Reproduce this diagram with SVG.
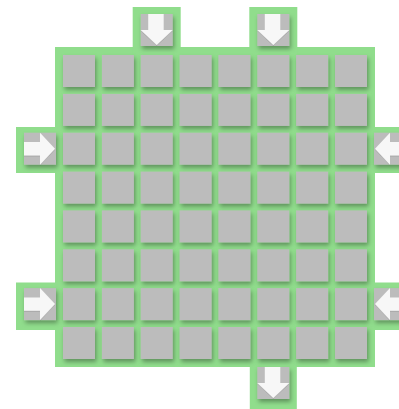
<svg xmlns="http://www.w3.org/2000/svg" width="399" height="409" viewBox="0 0 399 409">
<defs>
<filter id="sh" x="-30%" y="-30%" width="170%" height="170%"><feDropShadow dx="1.5" dy="3" stdDeviation="2" flood-color="#000" flood-opacity="0.33"/></filter>
<filter id="ash" x="-20%" y="-20%" width="150%" height="150%"><feDropShadow dx="0" dy="1" stdDeviation="0.6" flood-color="#000" flood-opacity="0.12"/></filter>
<rect id="c" width="32" height="32" class="cell"/>
<path id="aR" d="M0,9.3H16V0L31,16L16,32V22.7H0Z"/>
<path id="aL" d="M32,9.3H16V0L1,16L16,32V22.7H32Z"/>
<path id="aD" d="M7.5,0V16H0L16,31L32,16H23V0Z"/>
</defs>
<style>
.g{fill:#90dd8c}
.cell{fill:#bcbcbc}
.cells use{filter:url(#sh)}
.arr{fill:#f7f7f7;filter:url(#ash)}
</style>
<rect width="399" height="409" fill="#fff"/>
<g id="board">
<rect class="g" x="55" y="47" width="320" height="320"/>
</g>
<g id="tab-top-1"><rect class="g" x="132.7" y="7" width="48" height="48"/><use href="#c" x="140.7" y="14" filter="url(#sh)"/><use href="#aD" class="arr" x="140.7" y="14"/></g>
<g id="tab-top-2"><rect class="g" x="249.3" y="7" width="48" height="48"/><use href="#c" x="257.3" y="14" filter="url(#sh)"/><use href="#aD" class="arr" x="257.3" y="14"/></g>
<g id="tab-left-1"><rect class="g" x="16" y="127" width="48" height="46"/><use href="#c" x="24" y="132.7" filter="url(#sh)"/><use href="#aR" class="arr" x="24" y="132.7"/></g>
<g id="tab-left-2"><rect class="g" x="16" y="282.5" width="48" height="47.5"/><use href="#c" x="24" y="288.1" filter="url(#sh)"/><use href="#aR" class="arr" x="24" y="288.1"/></g>
<g id="tab-right-1"><rect class="g" x="366.5" y="127" width="48" height="46"/><use href="#c" x="374" y="132.7" filter="url(#sh)"/><use href="#aL" class="arr" x="374" y="132.7"/></g>
<g id="tab-right-2"><rect class="g" x="366.5" y="282.5" width="48" height="47.5"/><use href="#c" x="374" y="288.1" filter="url(#sh)"/><use href="#aL" class="arr" x="374" y="288.1"/></g>
<g id="tab-bottom"><rect class="g" x="249.8" y="360" width="47" height="49"/><use href="#c" x="257.3" y="367" filter="url(#sh)"/><use href="#aD" class="arr" x="257.3" y="367"/></g>
<g id="cells" class="cells">
<g id="r0"><use href="#c" x="63" y="55"/><use href="#c" x="101.9" y="55"/><use href="#c" x="140.7" y="55"/><use href="#c" x="179.6" y="55"/><use href="#c" x="218.4" y="55"/><use href="#c" x="257.3" y="55"/><use href="#c" x="296.1" y="55"/><use href="#c" x="335" y="55"/></g>
<g id="r1"><use href="#c" x="63" y="93.9"/><use href="#c" x="101.9" y="93.9"/><use href="#c" x="140.7" y="93.9"/><use href="#c" x="179.6" y="93.9"/><use href="#c" x="218.4" y="93.9"/><use href="#c" x="257.3" y="93.9"/><use href="#c" x="296.1" y="93.9"/><use href="#c" x="335" y="93.9"/></g>
<g id="r2"><use href="#c" x="63" y="132.7"/><use href="#c" x="101.9" y="132.7"/><use href="#c" x="140.7" y="132.7"/><use href="#c" x="179.6" y="132.7"/><use href="#c" x="218.4" y="132.7"/><use href="#c" x="257.3" y="132.7"/><use href="#c" x="296.1" y="132.7"/><use href="#c" x="335" y="132.7"/></g>
<g id="r3"><use href="#c" x="63" y="171.6"/><use href="#c" x="101.9" y="171.6"/><use href="#c" x="140.7" y="171.6"/><use href="#c" x="179.6" y="171.6"/><use href="#c" x="218.4" y="171.6"/><use href="#c" x="257.3" y="171.6"/><use href="#c" x="296.1" y="171.6"/><use href="#c" x="335" y="171.6"/></g>
<g id="r4"><use href="#c" x="63" y="210.4"/><use href="#c" x="101.9" y="210.4"/><use href="#c" x="140.7" y="210.4"/><use href="#c" x="179.6" y="210.4"/><use href="#c" x="218.4" y="210.4"/><use href="#c" x="257.3" y="210.4"/><use href="#c" x="296.1" y="210.4"/><use href="#c" x="335" y="210.4"/></g>
<g id="r5"><use href="#c" x="63" y="249.3"/><use href="#c" x="101.9" y="249.3"/><use href="#c" x="140.7" y="249.3"/><use href="#c" x="179.6" y="249.3"/><use href="#c" x="218.4" y="249.3"/><use href="#c" x="257.3" y="249.3"/><use href="#c" x="296.1" y="249.3"/><use href="#c" x="335" y="249.3"/></g>
<g id="r6"><use href="#c" x="63" y="288.1"/><use href="#c" x="101.9" y="288.1"/><use href="#c" x="140.7" y="288.1"/><use href="#c" x="179.6" y="288.1"/><use href="#c" x="218.4" y="288.1"/><use href="#c" x="257.3" y="288.1"/><use href="#c" x="296.1" y="288.1"/><use href="#c" x="335" y="288.1"/></g>
<g id="r7"><use href="#c" x="63" y="327"/><use href="#c" x="101.9" y="327"/><use href="#c" x="140.7" y="327"/><use href="#c" x="179.6" y="327"/><use href="#c" x="218.4" y="327"/><use href="#c" x="257.3" y="327"/><use href="#c" x="296.1" y="327"/><use href="#c" x="335" y="327"/></g>
</g>
<g id="connectors"/>
</svg>
